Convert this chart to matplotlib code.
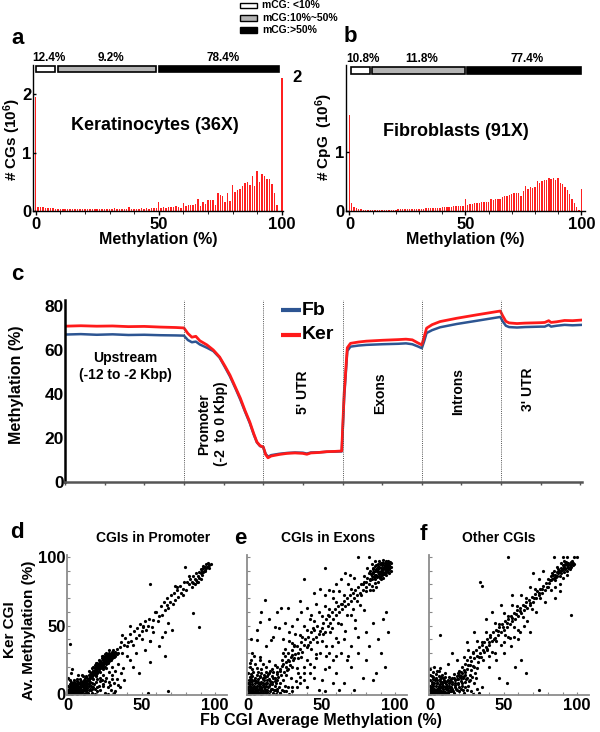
import matplotlib
matplotlib.use("Agg")
import matplotlib.pyplot as plt
from matplotlib.patches import Rectangle
from matplotlib.ticker import MultipleLocator

plt.rcParams['font.family'] = ['Liberation Sans', 'DejaVu Sans']
plt.rcParams['font.weight'] = 'bold'
plt.rcParams['axes.labelweight'] = 'bold'
plt.rcParams['mathtext.fontset'] = 'custom'
plt.rcParams['mathtext.rm'] = 'Liberation Sans:bold'
plt.rcParams['mathtext.bf'] = 'Liberation Sans:bold'
plt.rcParams['mathtext.default'] = 'bf'

# ---- panels a / b : CpG methylation histograms (10^6 CpGs per 1% bin)
meth_pct = list(range(101))
ker_hist = [1.95, 0.06, 0.06, 0.06, 0.055, 0.05, 0.045, 0.045, 0.04, 0.04,
            0.04, 0.035, 0.035, 0.04, 0.035, 0.035, 0.035, 0.035, 0.035, 0.03,
            0.035, 0.04, 0.035, 0.035, 0.03, 0.035, 0.04, 0.035, 0.035, 0.03,
            0.04, 0.035, 0.045, 0.035, 0.04, 0.035, 0.04, 0.035, 0.06, 0.035,
            0.04, 0.04, 0.035, 0.045, 0.04, 0.05, 0.04, 0.05, 0.05, 0.05,
            0.15, 0.045, 0.06, 0.055, 0.06, 0.07, 0.06, 0.09, 0.07, 0.05,
            0.13, 0.09, 0.095, 0.10, 0.10, 0.12, 0.20, 0.09, 0.15, 0.12,
            0.19, 0.18, 0.19, 0.11, 0.31, 0.27, 0.26, 0.15, 0.30, 0.17,
            0.45, 0.32, 0.36, 0.37, 0.42, 0.48, 0.49, 0.44, 0.60, 0.43,
            0.69, 0.50, 0.64, 0.60, 0.54, 0.54, 0.47, 0.30, 0.11, 0.0,
            2.27]
fib_hist = [1.63, 0.135, 0.07, 0.045, 0.035, 0.03, 0.025, 0.022, 0.02, 0.02,
            0.02, 0.02, 0.02, 0.02, 0.02, 0.02, 0.022, 0.022, 0.022, 0.025,
            0.025, 0.028, 0.03, 0.03, 0.03, 0.03, 0.032, 0.035, 0.035, 0.035,
            0.04, 0.04, 0.042, 0.045, 0.045, 0.05, 0.05, 0.05, 0.055, 0.055,
            0.06, 0.07, 0.07, 0.075, 0.075, 0.08, 0.085, 0.09, 0.09, 0.09,
            0.20, 0.10, 0.12, 0.12, 0.13, 0.13, 0.14, 0.15, 0.16, 0.16,
            0.15, 0.20, 0.19, 0.20, 0.21, 0.21, 0.24, 0.25, 0.26, 0.27,
            0.28, 0.30, 0.31, 0.30, 0.26, 0.33, 0.42, 0.38, 0.40, 0.39,
            0.41, 0.51, 0.48, 0.50, 0.52, 0.53, 0.55, 0.54, 0.55, 0.52,
            0.56, 0.47, 0.45, 0.41, 0.35, 0.29, 0.21, 0.13, 0.07, 0.02,
            0.38]
mcg_labels = ["mCG: <10%", "mCG:10%~50%", "mCG:>50%"]
mcg_colors = ["white", "#b4b4b4", "black"]
mcg_ranges = [(0, 9), (9, 50), (50, 100)]
ker_share = ["12.4%", "9.2%", "78.4%"]
fib_share = ["10.8%", "11.8%", "77.4%"]

# ---- panel c : methylation across gene regions
regions = ["Upstream\n(-12 to -2 Kbp)", "Promoter\n(-2  to 0 Kbp)", "5' UTR",
           "Exons", "Introns", "3' UTR"]
region_edges = [1.5, 2.5, 3.5, 4.5, 5.5]
prof_x = [0.0, 0.2, 0.4, 0.6, 0.8, 1.0, 1.2, 1.4, 1.5,
          1.55, 1.6, 1.65, 1.7, 1.79, 1.87, 1.95, 2.02, 2.08, 2.15, 2.21,
          2.27, 2.33, 2.38, 2.42, 2.46, 2.5,
          2.53, 2.56, 2.6, 2.7, 2.8, 2.9, 3.0, 3.05, 3.1, 3.2, 3.3, 3.4, 3.49,
          3.52, 3.56, 3.6, 3.7, 3.8, 4.0, 4.2, 4.3, 4.38, 4.45, 4.5,
          4.53, 4.56, 4.63, 4.73, 4.94, 5.2, 5.49,
          5.52, 5.56, 5.6, 5.7, 5.8, 5.9, 6.0, 6.05, 6.1, 6.13, 6.2, 6.3, 6.4, 6.52]
ker_prof = [70.8, 71.0, 70.8, 70.9, 70.6, 70.7, 70.4, 70.2, 70.0,
            67.5, 65.8, 66.2, 64.2, 62.3, 60.0, 56.8, 52.5, 48.6, 43.0, 38.2,
            32.5, 27.3, 22.0, 18.2, 16.5, 15.9,
            12.5, 11.0, 11.8, 12.5, 13.0, 13.2, 13.0, 12.6, 13.2, 13.4, 13.8, 13.9, 14.1,
            40.0, 61.0, 63.0, 63.6, 64.0, 64.4, 64.7, 64.9, 64.6, 63.2, 62.3,
            66.0, 69.9, 71.5, 72.9, 74.4, 76.0, 77.7,
            75.5, 73.0, 72.3, 72.0, 72.2, 72.3, 72.4, 72.5, 73.3, 72.5, 72.8, 73.4, 73.3, 73.6]
fb_prof = [67.0, 67.2, 66.9, 67.1, 66.8, 66.9, 66.7, 66.6, 66.5,
           64.5, 63.5, 63.8, 62.5, 61.0, 59.5, 56.5, 52.0, 48.0, 42.5, 37.5,
           32.0, 26.8, 21.6, 18.0, 16.3, 15.8,
           12.8, 11.5, 12.2, 12.8, 13.2, 13.4, 13.3, 12.9, 13.4, 13.5, 13.7, 13.8, 13.9,
           38.0, 59.5, 61.5, 62.0, 62.3, 62.6, 62.8, 63.0, 62.6, 61.6, 60.8,
           64.0, 67.7, 69.0, 70.3, 71.8, 73.3, 75.0,
           73.0, 71.0, 70.4, 70.2, 70.4, 70.5, 70.6, 70.6, 71.4, 70.6, 71.0, 71.4, 71.2, 71.4]

# ---- panels d / e / f : CGI average methylation, Fb (x) vs Ker (y)
cgi_promoter = [
    (0, 0), (1, 1), (2, 0), (3, 2), (4, 1), (5, 3), (6, 0), (7, 2), (8, 1), (9, 4), (10, 2), (11, 0),
    (1, 4), (2, 6), (3, 5), (4, 7), (5, 5), (6, 4), (7, 6), (8, 5), (9, 7), (10, 6), (11, 8), (12, 5),
    (0, 3), (1, 7), (2, 3), (3, 8), (4, 4), (5, 1), (6, 7), (7, 4), (8, 8), (9, 2), (10, 9), (12, 3),
    (0, 6), (1, 2), (2, 9), (3, 0), (5, 8), (6, 2), (7, 9), (8, 3), (11, 4), (12, 7), (13, 1), (14, 3),
    (4, 10), (0, 12), (2, 15), (3, 18), (1, 10), (6, 11), (13, 6), (15, 4), (16, 1), (18, 0), (20, 2),
    (17, 5), (0.5, 1.5), (2.5, 1), (4.5, 2.5), (6.5, 3), (8.5, 0.5), (1.5, 5), (3.5, 3.5), (5.5, 6.5),
    (0.3, 0.8), (1.2, 2.6), (2.7, 4.1), (3.9, 1.3), (4.8, 5.9), (5.6, 3.7), (6.8, 5.1), (7.7, 0.6),
    (8.9, 6.3), (9.8, 1.2), (10.6, 4.4), (11.3, 6.9), (12.4, 2.2), (0.8, 5.2), (1.9, 8.1), (2.2, 2.1),
    (3.1, 6.4), (4.2, 8.6), (5.1, 0.4), (6.3, 9.2), (7.1, 7.6), (8.2, 4.8), (9.1, 9.4), (10.2, 7.1),
    (11.9, 9.8), (13.2, 4.2), (0.2, 2.3), (1.6, 0.4), (3.3, 1.7), (4.4, 3.2), (5.9, 2.1), (7.4, 2.8),
    (8.7, 1.9), (9.6, 5.8), (12.8, 8.4), (14.1, 7.5), (15.3, 6.2), (16.4, 3.6),
    (10, 8), (11, 10), (12, 9), (13, 12), (14, 10), (14, 14), (15, 12), (15, 16), (16, 13), (16, 15),
    (17, 14), (17, 17), (18, 15), (18, 19), (19, 17), (19, 21), (20, 18), (20, 20), (20, 23), (21, 17),
    (21, 20), (21, 22), (22, 19), (22, 21), (22, 24), (23, 20), (23, 23), (23, 26), (24, 21), (24, 22),
    (24, 25), (24, 28), (25, 20), (25, 23), (25, 26), (25, 29), (26, 22), (26, 24), (26, 27), (27, 23),
    (27, 26), (27, 29), (28, 24), (28, 27), (28, 30), (29, 25), (29, 28), (30, 26), (30, 29), (30, 31),
    (31, 27), (31, 30), (32, 28), (32, 31), (33, 29), (33, 33), (34, 30), (19, 23), (21, 25), (23, 28),
    (18, 21), (16, 19), (26, 30), (28, 32), (20, 15), (22, 16), (24, 18), (26, 19), (17, 11), (19, 13),
    (15, 9), (13, 8), (12, 13), (14, 17), (22.5, 22.5), (24.5, 23.5), (26.5, 25.5), (21.5, 19),
    (14.6, 12.4), (15.8, 14.1), (16.7, 16.8), (17.6, 15.2), (18.4, 17.7), (19.3, 19.2), (20.4, 21.6),
    (21.2, 18.4), (22.3, 23.1), (23.4, 21.7), (24.2, 26.4), (25.3, 24.1), (26.1, 25.8), (27.4, 27.7),
    (28.2, 25.6), (29.4, 29.3), (30.3, 27.4), (31.4, 28.8), (32.6, 30.2), (17.2, 19.8), (19.8, 16.4),
    (21.7, 24.3), (23.8, 19.4), (25.7, 27.9), (27.8, 24.8), (29.7, 26.7), (18.8, 14.2), (20.9, 19.7),
    (22.8, 20.3), (24.7, 23.6), (26.6, 22.9), (28.6, 28.6), (30.8, 32.4), (16.2, 11.8), (13.6, 10.6),
    (15.1, 13.7), (19.5, 20.5), (24.9, 27.1), (26.9, 28.4), (21.4, 23.4),
    (12, 1), (14, 6), (16, 8), (18, 4), (19, 9), (20, 11), (21, 6), (22, 3), (23, 10), (24, 7), (25, 1),
    (26, 12), (27, 5), (28, 9), (29, 3), (30, 14), (31, 8), (32, 2), (33, 11), (35, 5), (24, 14),
    (22, 12), (28, 16), (30, 20), (32, 17), (34, 22), (36, 15), (38, 10), (27, 0), (31, 1), (10, 13),
    (8, 11), (7, 14), (13.8, 0.8), (15.7, 2.9), (17.4, 7.2), (19.6, 5.1), (21.5, 9.8), (23.6, 5.6),
    (25.4, 9.2), (28.4, 6.4), (29.8, 10.7), (11.6, 11.9), (9.3, 13.6),
    (35, 34), (36, 38), (37, 30), (38, 36), (39, 41), (40, 35), (41, 38), (42, 44), (43, 39), (44, 36),
    (45, 46), (46, 41), (47, 48), (48, 43), (49, 51), (50, 46), (51, 49), (52, 53), (53, 47), (54, 50),
    (55, 55), (57, 49), (58, 54), (60, 60), (61, 53), (62, 57), (63, 64), (64, 58), (65, 67), (66, 61),
    (67, 70), (68, 63), (69, 67), (70, 72), (71, 66), (72, 74), (73, 69), (74, 76), (75, 71), (76, 79),
    (77, 74), (78, 77), (79, 82), (80, 76), (66, 45), (64, 42), (68, 52), (56, 39), (50, 40), (46, 30),
    (44, 20), (48, 15), (37.6, 18.7), (34, 6.6), (56, 23.6), (58, 45), (62, 35), (40, 28), (42, 25),
    (52, 32), (36.5, 43), (42, 50), (51, 50), (55.5, 39), (59, 60), (67, 65), (70.5, 47), (73, 79),
    (81, 82), (82, 80), (83, 84), (84, 82), (85, 86), (85, 81), (86, 84), (87, 88), (87, 83), (88, 86),
    (89, 89), (89, 85), (90, 88), (90, 91), (91, 90), (91, 87), (92, 92), (92, 89), (93, 93), (93, 90),
    (94, 92), (94, 95), (95, 93), (95, 96), (96, 94), (96, 92), (84, 78), (86, 80), (88, 82), (82, 86),
    (97, 95), (90, 84), (87.5, 82), (93, 90.5), (94.3, 92.5), (91.5, 93.5),
    (1.5, 36.5), (56, 80), (79.6, 92.5), (85, 59), (89.3, 48.7), (68, 2.4), (54, 0.5), (66, 27.7),
    (74, 78), (78, 72)]

cgi_exons = [
    (0, 0), (1, 2), (2, 1), (3, 3), (4, 0), (5, 2), (6, 4), (7, 1), (8, 3), (9, 0), (10, 2), (11, 5),
    (12, 1), (13, 3), (14, 0), (15, 2), (16, 4), (17, 1), (18, 3), (19, 0), (20, 2),
    (0, 4), (1, 6), (2, 5), (3, 7), (4, 5), (5, 8), (6, 6), (7, 9), (8, 7), (9, 5), (10, 8), (11, 10),
    (12, 6), (13, 8), (14, 11), (15, 7), (16, 9), (17, 12), (18, 6), (19, 8), (20, 10),
    (1, 9), (2, 11), (3, 13), (4, 10), (5, 12), (6, 14), (7, 11), (8, 13), (9, 15), (10, 12), (11, 14),
    (12, 16), (13, 13), (14, 15), (15, 17), (21, 5), (22, 8), (23, 3), (24, 10), (25, 6), (22, 1),
    (26, 2), (28, 0), (0.5, 1), (2.5, 0.5), (4.5, 2.5), (6.5, 1.5), (8.5, 2), (10.5, 0.5), (3.5, 4.5),
    (5.5, 5.5), (7.5, 3.5), (9.5, 3), (11.5, 2.5), (13.5, 5.5), (1.5, 3.5), (0, 8), (0, 15), (1, 20),
    (2, 25), (3, 18), (5, 22), (8, 27), (6, 19), (4, 28), (10, 22), (12, 20), (14, 24), (16, 18),
    (18, 21), (20, 16), (9, 18), (7, 16),
    (0.4, 2.4), (1.4, 0.3), (2.3, 3.6), (3.4, 1.4), (4.3, 4.3), (5.2, 0.7), (6.1, 2.6), (7.3, 5.7),
    (8.2, 1.1), (9.1, 4.1), (10.3, 6.6), (11.2, 3.4), (12.3, 8.4), (13.1, 1.7), (14.2, 6.1), (15.4, 3.9),
    (16.3, 7.4), (17.5, 2.8), (18.6, 9.6), (0.9, 7.3), (1.8, 4.8), (2.9, 9.4), (3.8, 6.2), (4.9, 3.9),
    (5.7, 9.8), (6.9, 7.7), (7.9, 12.3), (8.8, 9.1), (9.9, 10.7), (10.9, 7.3), (11.8, 12.2),
    (12.9, 10.1), (13.8, 14.4), (14.8, 9.3), (16.1, 13.2), (17.2, 16.4), (18.3, 11.6), (19.4, 14.3),
    (20.6, 12.8), (21.5, 17.1), (22.7, 13.6), (23.3, 20.4), (24.4, 16.2), (25.6, 23.4), (26.8, 17.8),
    (27.3, 25.1), (28.7, 21.3), (29.6, 28.4), (30.7, 24.6), (1.1, 12.2), (2.1, 14.7), (3.2, 16.3),
    (0.2, 5.4), (0.7, 10.2), (19.7, 3.4), (21.8, 0.6), (24.6, 2.2), (27.2, 4.8), (30.1, 5.3),
    (32.5, 9.7), (35.6, 12.4), (37.9, 15.6),
    (20, 20), (22, 18), (23, 25), (24, 22), (25, 28), (26, 20), (27, 30), (28, 24), (29, 27), (30, 32),
    (31, 26), (32, 29), (33, 35), (34, 30), (35, 33), (36, 38), (37, 31), (38, 36), (39, 40), (40, 34),
    (41, 42), (42, 38), (43, 45), (44, 40), (45, 47), (46, 42), (47, 50), (48, 44), (49, 46), (50, 48),
    (51, 52), (52, 45), (53, 55), (54, 50), (55, 57), (56, 52), (57, 60), (58, 55), (59, 62), (60, 58),
    (61, 64), (62, 60), (63, 66), (64, 62), (65, 68), (66, 64), (67, 70), (68, 66), (69, 72), (70, 68),
    (71, 74), (72, 70), (73, 76), (74, 72), (75, 78), (76, 74), (77, 80), (78, 76), (79, 82), (80, 78),
    (25, 33), (28, 39), (30, 37), (32, 44), (35, 43), (38, 50), (40, 47), (42, 55), (45, 53), (48, 60),
    (50, 57), (52, 64), (55, 62), (58, 70), (60, 67), (62, 75), (65, 72), (68, 80), (70, 77), (72, 85),
    (26, 14), (30, 20), (33, 19), (36, 27), (40, 25), (43, 33), (46, 29), (50, 39), (53, 35), (56, 45),
    (60, 41), (63, 51), (66, 46), (70, 58), (73, 54), (76, 65), (79, 61),
    (24, 30), (27, 18), (31, 35), (34, 26), (37, 42), (41, 36), (44, 48), (47, 38), (51, 44), (54, 58),
    (57, 48), (61, 52), (64, 66), (67, 58), (71, 62), (74, 68), (77, 72),
    (29, 12), (34, 15), (38, 20), (42, 22), (46, 26), (49, 30), (53, 28), (57, 35), (61, 38), (65, 40),
    (38, 83.7), (52.4, 91.7), (11.8, 68.6), (9, 60), (20, 60), (22.4, 62.5), (26.9, 62.5), (5.8, 46.7),
    (8, 52.8), (18, 49), (15.8, 39.4), (5.8, 39.4), (1.3, 22.4), (8, 24.8), (31, 35.8), (44.7, 73.5),
    (49, 77), (69, 87), (75, 100), (82, 100), (3, 30), (12, 35), (17, 42), (21, 48), (25, 52), (28, 45),
    (33, 55), (36, 60), (40, 63), (43, 58), (46, 66), (52, 72), (55, 76), (60, 80), (63, 84), (66, 88),
    (14, 55), (2, 40), (24, 40), (30, 50), (35, 68), (58, 75),
    (40, 5), (45, 12), (48, 3), (50, 10), (52, 18), (55, 20), (58, 8), (60, 15), (62, 3), (65, 8),
    (67, 25), (70, 20), (72, 3), (75, 30), (78, 12), (80, 25), (82, 35), (85, 10), (87, 15), (88, 40),
    (90, 30), (92, 55), (94, 60), (93, 20), (95, 45), (85, 52), (80, 45), (75, 42), (70, 35), (68, 28),
    (63, 30), (58, 25), (55, 30), (45, 20), (42, 15), (38, 10), (35, 8), (33, 5), (30, 2), (52, 2),
    (60, 28), (73, 48),
    (80, 82), (81, 85), (82, 80), (82, 88), (83, 83), (83, 90), (84, 86), (84, 79), (85, 88), (85, 92),
    (86, 84), (86, 90), (87, 87), (87, 94), (88, 82), (88, 91), (88, 95), (89, 86), (89, 89), (89, 93),
    (90, 84), (90, 88), (90, 92), (90, 96), (91, 87), (91, 90), (91, 94), (92, 85), (92, 89), (92, 92),
    (92, 96), (93, 88), (93, 91), (93, 94), (94, 87), (94, 90), (94, 93), (94, 96), (95, 89), (95, 92),
    (95, 95), (96, 91), (96, 94), (97, 93), (97, 96), (86, 81), (87, 78), (85, 76), (83, 76), (80, 75),
    (78, 80), (79, 86), (81, 92), (84, 95), (86, 97), (89, 97), (92, 98), (95, 97), (96, 88), (97, 90),
    (84.5, 84), (86.5, 87), (88.5, 89), (90.5, 90), (92.5, 93), (94.5, 94), (91.5, 92), (93.5, 92.5),
    (83.4, 87.6), (84.7, 91.3), (85.8, 85.4), (86.3, 93.7), (87.6, 89.8), (88.2, 92.4), (89.4, 84.7),
    (89.8, 94.8), (90.7, 89.3), (91.3, 95.6), (91.8, 91.2), (92.6, 87.4), (93.2, 95.8), (93.7, 89.4),
    (94.3, 91.8), (94.8, 95.3), (95.4, 90.6), (95.8, 93.8), (96.4, 96.1), (96.7, 92.5), (87.3, 85.2),
    (88.8, 87.6), (90.2, 86.3), (85.2, 89.4), (82.6, 84.3), (86.9, 91.6), (91.6, 88.6), (93.9, 97.2)]

cgi_other = [
    (0, 0), (1, 1), (2, 3), (3, 0), (4, 2), (5, 4), (6, 1), (7, 3), (8, 0), (9, 2), (10, 5), (11, 1),
    (12, 3), (13, 6), (14, 2), (15, 4), (16, 1), (17, 5), (18, 3), (19, 7), (20, 2), (21, 4), (22, 8),
    (23, 1), (24, 5), (25, 3),
    (0, 3), (1, 5), (2, 7), (3, 4), (4, 6), (5, 8), (6, 5), (7, 7), (8, 9), (9, 6), (10, 9), (11, 7),
    (12, 10), (13, 8), (14, 11), (15, 9), (16, 12), (17, 10), (18, 13), (19, 11), (20, 14), (21, 12),
    (22, 15), (23, 13), (24, 16), (25, 12),
    (0, 6), (1, 9), (2, 11), (3, 8), (4, 12), (5, 10), (6, 13), (7, 11), (8, 14), (9, 12), (10, 15),
    (0.5, 1.5), (2.5, 1.5), (4.5, 0.5), (6.5, 2.5), (8.5, 3.5), (10.5, 1.5), (12.5, 0.5), (14.5, 5.5),
    (3.5, 2.5), (5.5, 1.5), (7.5, 5.5), (9.5, 8.5), (11.5, 4.5), (13.5, 2.5), (1.5, 3.5), (0, 10),
    (1, 13), (2, 16), (3, 20), (0, 18), (5, 17), (7, 19), (26, 6), (28, 2), (30, 8), (32, 4), (27, 10),
    (29, 0), (31, 12), (33, 1), (35, 5), (25, 18), (27, 14),
    (0.6, 0.9), (1.7, 2.4), (2.6, 0.4), (3.7, 3.1), (4.1, 1.2), (5.3, 2.7), (6.2, 4.6), (7.6, 1.8),
    (8.4, 5.3), (9.2, 0.7), (10.7, 3.4), (11.8, 6.2), (12.2, 1.6), (13.3, 4.4), (14.7, 7.1), (15.6, 2.3),
    (16.8, 6.4), (17.7, 3.7), (18.9, 8.4), (19.6, 4.9), (20.8, 9.3), (21.7, 6.1), (22.6, 3.2),
    (23.8, 8.7), (24.3, 10.9), (0.4, 4.7), (1.3, 7.4), (2.2, 5.6), (3.3, 10.4), (4.6, 8.3), (5.8, 6.1),
    (6.7, 9.7), (7.2, 12.6), (8.1, 7.6), (9.7, 10.4), (10.4, 12.8), (11.3, 9.4), (12.8, 12.3),
    (13.9, 9.8), (15.2, 11.6), (16.2, 14.6), (17.3, 8.1), (18.2, 11.3), (19.1, 15.4), (20.3, 12.7),
    (21.3, 16.2), (22.2, 11.8), (23.2, 17.3), (1.9, 12.1), (0.3, 14.2), (3.9, 14.8), (6.1, 16.7),
    (26.4, 9.8), (28.3, 12.6), (30.6, 15.1), (27.6, 17.6), (29.2, 20.4), (31.6, 19.3), (32.7, 23.2),
    (34.4, 26.8), (36.6, 30.6), (38.7, 32.1), (40.4, 38.3), (43.6, 40.2), (46.3, 46.1), (49.4, 48.6),
    (52.6, 51.7), (55.4, 55.2), (58.7, 58.4), (61.3, 60.6), (64.4, 64.3), (67.6, 66.8), (70.6, 70.4),
    (73.7, 73.6), (76.3, 76.9), (79.4, 78.3), (81.7, 83.4), (83.6, 86.6), (85.7, 85.2), (87.4, 89.6),
    (89.6, 90.3), (91.4, 91.1), (93.6, 92.3), (95.6, 96.4), (96.6, 97.3), (92.3, 96.6), (94.4, 95.2),
    (90.8, 92.6),
    (20, 17), (22, 20), (24, 22), (25, 25), (26, 21), (27, 27), (28, 24), (29, 30), (30, 26), (31, 32),
    (32, 28), (33, 34), (34, 30), (35, 36), (36, 32), (37, 38), (38, 34), (39, 40), (40, 36), (41, 42),
    (42, 39), (43, 45), (44, 41), (45, 47), (46, 43), (47, 49), (48, 45), (49, 51), (50, 47), (51, 53),
    (52, 49), (53, 55), (54, 51), (55, 57), (56, 53), (57, 59), (58, 55), (59, 61), (60, 57), (61, 63),
    (62, 59), (63, 65), (64, 61), (65, 67), (66, 63), (67, 69), (68, 65), (69, 71), (70, 67), (71, 73),
    (72, 70), (73, 75), (74, 72), (75, 77), (76, 74), (77, 79), (78, 76), (79, 81), (80, 78),
    (23, 27), (26, 32), (29, 31), (32, 39), (35, 38), (38, 45), (41, 43), (44, 52), (47, 51), (50, 59),
    (53, 57), (56, 65), (59, 64), (62, 72), (65, 70), (68, 78), (71, 77), (74, 84),
    (21, 13), (24, 14), (27, 21), (30, 20), (33, 27), (36, 25), (39, 33), (42, 31), (45, 39), (48, 36),
    (51, 43), (54, 41), (57, 49), (60, 47), (63, 56), (66, 53), (69, 62), (72, 60), (75, 70), (78, 67),
    (80, 84), (81, 81), (82, 86), (82, 83), (83, 88), (83, 84), (84, 85), (84, 90), (85, 87), (85, 83),
    (86, 89), (86, 86), (87, 91), (87, 88), (88, 90), (88, 86), (89, 92), (89, 88), (90, 91), (90, 94),
    (91, 89), (91, 93), (92, 92), (92, 95), (93, 90), (93, 94), (94, 93), (94, 96), (95, 94), (95, 91),
    (96, 95), (96, 93), (97, 96), (97, 94), (98, 95), (88, 80), (85, 78), (82, 76), (90, 85), (93, 87),
    (86, 93), (89, 96), (91, 97), (84, 100), (90, 100), (93, 100), (98, 100),
    (6.8, 43), (34, 82), (35, 79), (53, 100), (74, 3), (96, 58), (65, 15), (62, 25), (40, 20), (45, 25),
    (50, 30), (47, 12), (52, 8), (55, 35), (60, 40), (58, 20), (68, 45), (48, 65), (42, 60), (38, 55),
    (30, 45), (25, 38), (56, 72), (70, 88), (77, 90), (85, 70), (88, 75), (15, 30), (18, 25), (12, 22),
    (40, 28), (44, 30), (50, 38), (53, 42), (57, 42), (61, 45), (64, 50), (100, 100)]
cgi_titles = ["CGIs in Promoter", "CGIs in Exons", "Other CGIs"]

W, H = 600, 732


def box(l, t, r, b):
    # pixel box (left, top, right, bottom) -> figure fraction rect
    return [l / W, 1 - b / H, (r - l) / W, (b - t) / H]


def bold_ticks(ax):
    for lbl in ax.get_xticklabels() + ax.get_yticklabels():
        lbl.set_fontweight("bold")


def style_hist(ax, xlim, ylim):
    ax.set_xlim(*xlim)
    ax.set_ylim(*ylim)
    for s in ("top", "right"):
        ax.spines[s].set_visible(False)
    ax.spines["left"].set_linewidth(1.0)
    ax.spines["bottom"].set_linewidth(1.0)
    ax.set_xticks([0, 50, 100])
    ax.xaxis.set_minor_locator(MultipleLocator(10))
    ax.tick_params(labelsize=12, length=3, width=1, pad=1)
    ax.tick_params(which="minor", length=2)
    ax.tick_params(axis="y", direction="in", length=2, pad=1)
    ax.set_xlabel("Methylation (%)", fontsize=11.5, labelpad=0)


fig = plt.figure(figsize=(6, 7.32), dpi=100)

# panel a
ax_a = fig.add_axes(box(33, 65, 283, 211))
ax_a.bar(meth_pct, ker_hist, width=0.6, color="#ff2020", linewidth=0)
style_hist(ax_a, (-1.1, 100.5), (0, 2.5))
ax_a.set_yticks([0, 1, 2])
bold_ticks(ax_a)
fig.text(12 / W, 1 - 139 / H, "# CGs (10$^{6}$)", fontsize=11, rotation=90,
         ha="center", va="center")
ax_a.text(48.5, 1.47, "Keratinocytes (36X)", fontsize=13, ha="center", va="center")
for (lo, hi), c, lab in zip(mcg_ranges, mcg_colors, ker_share):
    ax_a.add_patch(Rectangle((lo, 2.38), hi - lo - 1.2, 0.1, facecolor=c,
                             edgecolor="black", lw=1.2, clip_on=False))
    ax_a.text((lo + hi) / 2 + 1, 2.52, lab, fontsize=8.5, ha="center", va="bottom")

# panel b
ax_b = fig.add_axes(box(346, 65, 585, 211))
ax_b.bar(meth_pct, fib_hist, width=0.6, color="#ff2020", linewidth=0)
style_hist(ax_b, (-1.5, 101.6), (0, 2.47))
ax_b.set_yticks([0, 1])
bold_ticks(ax_b)
fig.text(324 / W, 1 - 137 / H, "# CpG  (10$^{6}$)", fontsize=11, rotation=90,
         ha="center", va="center")
ax_b.text(46, 1.34, "Fibroblasts (91X)", fontsize=13, ha="center", va="center")
for (lo, hi), c, lab in zip(mcg_ranges, mcg_colors, fib_share):
    ax_b.add_patch(Rectangle((lo + 0.6, 2.32), hi - lo - 0.6, 0.12, facecolor=c,
                             edgecolor="black", lw=1.2, clip_on=False))
    ax_b.text((lo + hi) / 2 + 1.5, 2.47, lab, fontsize=8.5, ha="center", va="bottom")
fig.text(297 / W, 1 - 78 / H, "2", fontsize=12, ha="center", va="center")

# legend for the mCG boxes
for i, (lab, c) in enumerate(zip(mcg_labels, mcg_colors)):
    yc = 5.5 + 12.3 * i
    fig.patches.append(Rectangle((240 / W, 1 - (yc + 2.8) / H), 17 / W, 5.6 / H,
                                 facecolor=c, edgecolor="black", lw=1.0,
                                 transform=fig.transFigure))
    fig.text(262 / W, 1 - yc / H, lab, fontsize=7.5, va="center", ha="left")

fig.text(18 / W, 1 - 38 / H, "a", fontsize=16, ha="center", va="center")
fig.text(350 / W, 1 - 37 / H, "b", fontsize=16, ha="center", va="center")

# panel c
ax_c = fig.add_axes(box(65, 300, 582, 482))
ax_c.plot(prof_x, fb_prof, color="#2d5592", lw=1.8, solid_joinstyle="round")
ax_c.plot(prof_x, ker_prof, color="#ff1a1a", lw=2.0, solid_joinstyle="round")
for xe in region_edges:
    ax_c.axvline(xe, color="#555555", lw=0.7, ls=(0, (1, 1.2)))
ax_c.set_xlim(0, 6.52)
ax_c.set_ylim(0, 82.7)
ax_c.set_yticks([0, 20, 40, 60, 80])
ax_c.xaxis.set_major_locator(MultipleLocator(0.5))
ax_c.set_xticklabels([])
ax_c.tick_params(axis="y", labelsize=12.5, length=0, pad=1)
ax_c.tick_params(axis="x", length=2.5, width=1, color="#555555")
bold_ticks(ax_c)
for s in ("top", "right"):
    ax_c.spines[s].set_visible(False)
ax_c.spines["left"].set_linewidth(1.8)
ax_c.spines["bottom"].set_linewidth(1.8)
ax_c.spines["bottom"].set_color("#555555")
fig.text(17 / W, 1 - 385 / H, "Methylation (%)", fontsize=11.5, rotation=90,
         ha="center", va="center")
ax_c.text(0.76, 52.5, regions[0], fontsize=10, ha="center", va="center", linespacing=1.2)
ax_c.text(1.86, 26.5, regions[1], fontsize=10, ha="center", va="center",
          rotation=90, linespacing=1.3)
for xc, yc, lab in zip([3.0, 3.98, 4.96, 5.84], [41, 40.5, 41, 42], regions[2:]):
    ax_c.text(xc, yc, lab, fontsize=10, ha="center", va="center", rotation=90)
ax_c.plot([2.72, 2.97], [78, 78], color="#2d5592", lw=3, solid_capstyle="butt")
ax_c.plot([2.72, 2.97], [66.8, 66.8], color="#ff1a1a", lw=3, solid_capstyle="butt")
ax_c.text(2.99, 78, "Fb", fontsize=14, va="center", ha="left")
ax_c.text(2.99, 66.8, "Ker", fontsize=14, va="center", ha="left")
fig.text(17 / W, 1 - 275 / H, "c", fontsize=16, ha="center", va="center")

# panels d, e, f
sc_boxes = [(67, 227), (247, 407), (429, 589)]
sc_data = [cgi_promoter, cgi_exons, cgi_other]
title_x = [153, 328, 499]
letters = [("d", 17, 533), ("e", 240, 538), ("f", 423, 535)]
for i, ((l, r), pts, title) in enumerate(zip(sc_boxes, sc_data, cgi_titles)):
    ax = fig.add_axes(box(l, 555, r, 695))
    xs = [p[0] for p in pts]
    ys = [p[1] for p in pts]
    ax.plot(xs, ys, "o", ms=2.3, mew=0, color="black")
    ax.set_xlim(-0.7, 108)
    ax.set_ylim(-0.7, 101.5)
    ax.set_xticks([0, 50, 100])
    ax.set_yticks([0, 50, 100])
    ax.xaxis.set_minor_locator(MultipleLocator(10))
    ax.yaxis.set_minor_locator(MultipleLocator(10))
    ax.tick_params(which="both", direction="in", length=2, width=0.8, color="#888888",
                   labelsize=12, pad=1)
    ax.tick_params(axis="x", pad=2)
    if i > 0:
        ax.set_yticklabels([])
    bold_ticks(ax)
    for s in ("top", "right"):
        ax.spines[s].set_visible(False)
    for s in ("left", "bottom"):
        ax.spines[s].set_color("#8c8c8c")
        ax.spines[s].set_linewidth(1.3)
    fig.text(title_x[i] / W, 1 - 538 / H, title, fontsize=10, ha="center", va="center")
    lt, lx, ly = letters[i]
    fig.text(lx / W, 1 - ly / H, lt, fontsize=16, ha="center", va="center")

fig.text(10 / W, 1 - 630 / H, "Ker CGI", fontsize=11, rotation=90, ha="center", va="center")
fig.text(29 / W, 1 - 630 / H, "Av. Methylation (%)", fontsize=11, rotation=90,
         ha="center", va="center")
fig.text(321 / W, 1 - 721 / H, "Fb CGI Average Methylation (%)", fontsize=11.5,
         ha="center", va="center")

fig.savefig("out.png", dpi=100)
